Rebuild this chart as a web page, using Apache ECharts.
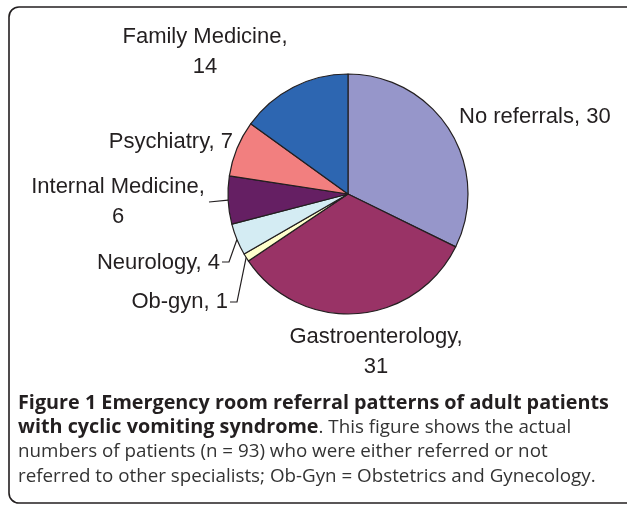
<!DOCTYPE html>
<html>
<head>
<meta charset="utf-8">
<script src="https://cdn.jsdelivr.net/npm/echarts@6/dist/echarts.min.js"></script>
<style>
html,body{margin:0;padding:0;background:#fff;}
#chart{width:627px;height:505px;}
</style>
</head>
<body>
<div id="chart"></div>
<script>
// ---- data ----
const categories = ['No referrals', 'Gastroenterology', 'Ob-gyn', 'Neurology', 'Internal Medicine', 'Psychiatry', 'Family Medicine'];
const values = [30, 31, 1, 4, 6, 7, 14];
const labelTexts = ['No referrals, 30', 'Gastroenterology,\n31', 'Ob-gyn, 1', 'Neurology, 4', 'Internal Medicine,\n6', 'Psychiatry, 7', 'Family Medicine,\n14'];
const colors = ['#9696CA', '#993366', '#FFFFCC', '#D4ECF3', '#651F63', '#F27F7F', '#2D66B1'];

// label anchor positions (annotation layout)
const labelPos = [
  {x: 459, y: 117, align: 'left'},
  {x: 376, y: 352, align: 'center'},
  {x: 228, y: 302, align: 'right'},
  {x: 220, y: 263, align: 'right'},
  {x: 118, y: 202, align: 'center'},
  {x: 233, y: 142, align: 'right'},
  {x: 205, y: 52, align: 'center'}
];
// leader line bends (null = no line)
const leaderBends = [null, null, [[237, 302], [230, 302]], [[229, 262], [222, 262]], [[209, 202]], null, null];

const chart = echarts.init(document.getElementById('chart'), null, {renderer: 'canvas'});

const option = {
  animation: false,
  backgroundColor: '#ffffff',
  graphic: [
    {
      type: 'rect',
      shape: {x: 9, y: 7, width: 640, height: 496, r: 10},
      style: {fill: 'none', stroke: '#231f20', lineWidth: 1.6},
      z: 0
    },
    {
      type: 'text',
      left: 18, top: 393,
      style: {
        text: '{b|Figure 1 Emergency room referral patterns of adult patients}\n{b|with cyclic vomiting syndrome}{r|. This figure shows the actual}\n{r|numbers of patients (n = 93) who were either referred or not}\n{r|referred to other specialists; Ob-Gyn = Obstetrics and Gynecology.}',
        rich: {
          b: {fontFamily: 'Open Sans', fontWeight: 'bold', fontSize: 19.8, lineHeight: 24.4, fill: '#231f20'},
          r: {fontFamily: 'Open Sans', fontSize: 18.8, lineHeight: 24.4, fill: '#333333'}
        }
      }
    }
  ],
  series: [{
    type: 'pie',
    center: [348, 194],
    radius: [0, 120],
    startAngle: 90,
    clockwise: true,
    avoidLabelOverlap: false,
    itemStyle: {borderColor: '#231f20', borderWidth: 1.2},
    label: {
      show: true,
      position: 'outside',
      fontFamily: 'Liberation Sans, Arial, sans-serif',
      fontSize: 22,
      lineHeight: 30,
      color: '#231f20',
      formatter: p => labelTexts[p.dataIndex]
    },
    labelLine: {show: true, lineStyle: {color: '#231f20', width: 1.2}},
    labelLayout: function (params) {
      const i = params.dataIndex;
      const pos = labelPos[i];
      const res = {x: pos.x, y: pos.y, align: pos.align, verticalAlign: 'middle'};
      const bends = leaderBends[i];
      if (bends && params.labelLinePoints) {
        const p0 = params.labelLinePoints[0];
        const pts = [p0].concat(bends);
        if (pts.length === 2) pts.push(bends[0]);
        res.labelLinePoints = pts;
      } else {
        res.labelLinePoints = null;
      }
      return res;
    },
    data: categories.map((c, i) => ({
      name: c,
      value: values[i],
      itemStyle: {color: colors[i]},
      labelLine: {show: leaderBends[i] !== null}
    })),
    emphasis: {disabled: true}
  }]
};
chart.setOption(option);
</script>
</body>
</html>
